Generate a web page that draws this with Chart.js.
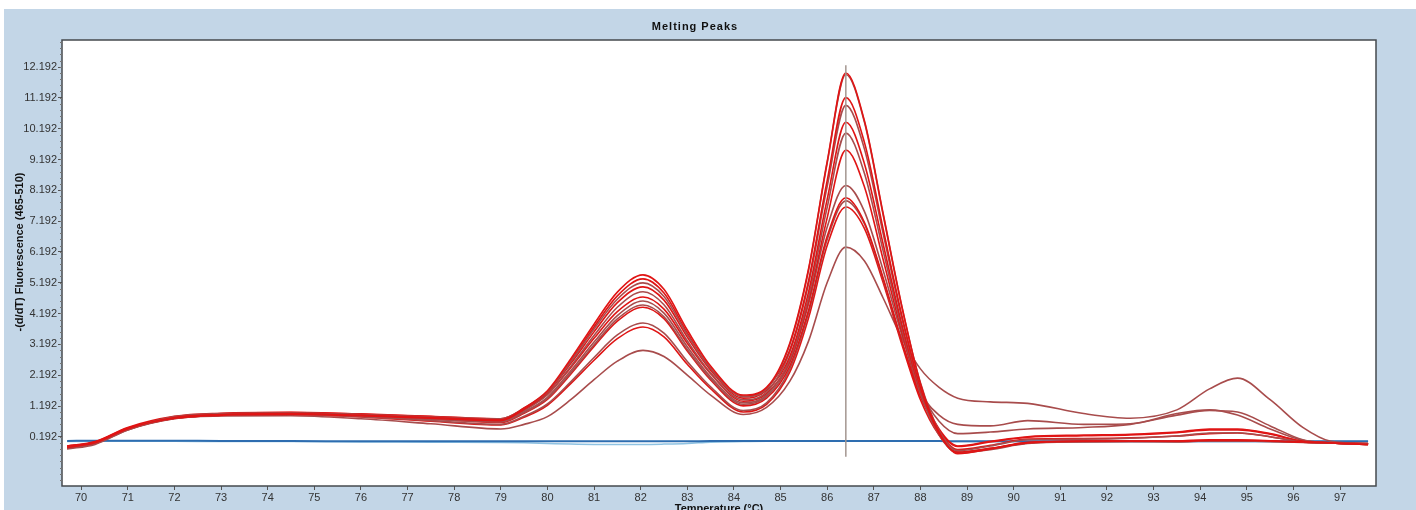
<!DOCTYPE html>
<html>
<head>
<meta charset="utf-8">
<title>Melting Peaks</title>
<script src="https://cdn.jsdelivr.net/npm/chart.js@4.4.0/dist/chart.umd.min.js"></script>
<style>
  html, body { margin: 0; padding: 0; background: #ffffff; }
  #wrap { width: 1416px; height: 510px; }
</style>
</head>
<body>
<div id="wrap"><canvas id="melt" width="1416" height="510"></canvas></div>
<script>
// temperatures (°C) the curves are sampled at
const temps = [69.7, 70.3, 71, 72, 73, 74.5, 76, 77.5, 79, 79.5, 80, 80.5, 81, 81.5, 82.05, 82.5, 83, 83.5, 84.2, 84.7,
  85.2, 85.6, 86, 86.4, 86.8, 87.2, 87.6, 88, 88.4, 88.8, 89.5, 90.3, 91.5, 92.5, 93.5, 94.2, 94.8, 95.5, 96.2, 96.8, 97.6];

// -(d/dT) fluorescence, one array per sample
const run1 = [-0.15, 0.0, 0.45, 0.82, 0.92, 0.95, 0.9, 0.82, 0.75, 1.13, 1.69, 2.72, 3.85, 4.89, 5.45, 4.98, 3.66, 2.49, 1.55, 1.8,
  3.24, 5.64, 9.12, 12.0, 10.44, 7.44, 4.44, 1.92, 0.35, -0.35, -0.2, 0.0, 0.05, 0.06, 0.05, 0.08, 0.08, 0.06, 0.03, 0.0, -0.05];
const run2 = [-0.2, -0.05, 0.42, 0.85, 0.95, 0.97, 0.92, 0.84, 0.78, 1.13, 1.66, 2.63, 3.69, 4.66, 5.19, 4.75, 3.51, 2.41, 1.5, 1.75,
  3.2, 5.6, 9.08, 11.95, 10.4, 7.4, 4.42, 1.95, 0.4, -0.25, -0.1, 0.1, 0.12, 0.15, 0.22, 0.32, 0.33, 0.2, 0.03, 0.0, -0.02];
const run3 = [-0.1, 0.02, 0.48, 0.8, 0.9, 0.93, 0.88, 0.8, 0.72, 1.09, 1.64, 2.65, 3.76, 4.77, 5.32, 4.86, 3.57, 2.42, 1.52, 1.77,
  3.02, 5.26, 8.51, 11.2, 9.74, 6.94, 4.14, 1.79, 0.3, -0.3, -0.18, 0.02, 0.06, 0.05, 0.06, 0.1, 0.1, 0.07, 0.02, 0.0, -0.05];
const run4 = [-0.15, 0.0, 0.44, 0.83, 0.93, 0.96, 0.91, 0.8, 0.72, 1.05, 1.56, 2.48, 3.48, 4.4, 4.9, 4.48, 3.31, 2.27, 1.4, 1.65,
  2.96, 5.15, 8.32, 10.95, 9.53, 6.79, 4.05, 1.75, 0.3, -0.32, -0.2, 0.0, 0.04, 0.05, 0.04, 0.07, 0.07, 0.05, 0.02, 0.0, -0.05];
const run5 = [-0.12, 0.03, 0.47, 0.84, 0.94, 0.98, 0.93, 0.85, 0.77, 1.11, 1.63, 2.57, 3.6, 4.55, 5.06, 4.63, 3.43, 2.36, 1.45, 1.7,
  2.81, 4.89, 7.9, 10.4, 9.05, 6.45, 3.85, 1.7, 0.45, -0.1, 0.05, 0.2, 0.25, 0.28, 0.35, 0.45, 0.45, 0.3, 0.05, 0.0, -0.03];
const run6 = [-0.18, -0.02, 0.43, 0.81, 0.91, 0.94, 0.89, 0.79, 0.7, 1.01, 1.48, 2.34, 3.27, 4.13, 4.6, 4.21, 3.12, 2.14, 1.3, 1.55,
  2.71, 4.72, 7.64, 10.05, 8.74, 6.23, 3.72, 1.6, 0.25, -0.33, -0.22, -0.02, 0.03, 0.04, 0.03, 0.06, 0.06, 0.04, 0.01, 0.0, -0.05];
const run7 = [-0.1, 0.04, 0.5, 0.86, 0.96, 0.99, 0.94, 0.86, 0.78, 1.1, 1.57, 2.44, 3.39, 4.26, 4.73, 4.34, 3.23, 2.24, 1.35, 1.6,
  2.66, 4.6, 7.3, 9.5, 8.3, 5.95, 3.6, 1.6, 0.35, -0.22, -0.08, 0.12, 0.14, 0.16, 0.22, 0.3, 0.32, 0.2, 0.03, 0.0, -0.02];
const run8 = [-0.14, 0.0, 0.45, 0.8, 0.9, 0.93, 0.87, 0.76, 0.68, 0.98, 1.44, 2.27, 3.18, 4.02, 4.47, 4.09, 3.03, 2.08, 1.25, 1.5,
  2.6, 4.5, 7.0, 8.35, 7.5, 5.6, 3.5, 1.7, 0.7, 0.3, 0.35, 0.45, 0.5, 0.6, 0.9, 1.05, 1.0, 0.55, 0.1, 0.0, -0.03];
const run9 = [-0.16, 0.01, 0.46, 0.82, 0.93, 0.96, 0.9, 0.78, 0.66, 0.96, 1.41, 2.23, 3.13, 3.95, 4.4, 4.03, 2.98, 2.04, 1.2, 1.45,
  2.5, 4.3, 6.7, 7.95, 7.15, 5.35, 3.3, 1.5, 0.4, -0.12, 0.03, 0.18, 0.23, 0.26, 0.33, 0.42, 0.42, 0.28, 0.05, 0.0, -0.04];
const run10 = [-0.12, 0.02, 0.46, 0.8, 0.9, 0.92, 0.85, 0.72, 0.6, 0.86, 1.26, 1.98, 2.77, 3.5, 3.89, 3.56, 2.64, 1.82, 1.05, 1.3,
  2.4, 4.2, 6.6, 7.85, 7.1, 5.3, 3.3, 1.65, 0.9, 0.6, 0.55, 0.72, 0.6, 0.62, 0.95, 1.07, 0.9, 0.45, 0.08, 0.0, -0.03];
const run11 = [-0.15, 0.0, 0.44, 0.79, 0.89, 0.92, 0.84, 0.7, 0.58, 0.83, 1.22, 1.92, 2.68, 3.38, 3.76, 3.44, 2.55, 1.76, 1.0, 1.25,
  2.3, 4.05, 6.4, 7.65, 6.95, 5.2, 3.2, 1.4, 0.25, -0.3, -0.18, 0.0, 0.05, 0.05, 0.05, 0.07, 0.07, 0.05, 0.02, 0.0, -0.05];
const run12 = [-0.18, -0.02, 0.42, 0.78, 0.87, 0.88, 0.78, 0.62, 0.45, 0.6, 0.85, 1.4, 2.05, 2.65, 3.0, 2.8, 2.2, 1.55, 0.92, 1.15,
  2.0, 3.3, 5.2, 6.35, 5.9, 4.7, 3.4, 2.4, 1.8, 1.45, 1.33, 1.28, 0.95, 0.8, 1.07, 1.75, 2.1, 1.4, 0.5, 0.05, -0.02];

// negative controls (blue)
const blank1 = [0.06, 0.07, 0.07, 0.07, 0.06, 0.06, 0.05, 0.05, 0.05, 0.05, 0.05, 0.05, 0.05, 0.05, 0.05, 0.05, 0.05, 0.06, 0.06, 0.06,
  0.06, 0.06, 0.06, 0.06, 0.06, 0.06, 0.06, 0.06, 0.06, 0.05, 0.05, 0.05, 0.05, 0.05, 0.05, 0.05, 0.05, 0.05, 0.05, 0.05, 0.05];
const blank2 = [0.04, 0.05, 0.05, 0.05, 0.04, 0.04, 0.03, 0.02, 0.01, 0.0, -0.02, -0.04, -0.05, -0.05, -0.05, -0.04, -0.02, 0.02, 0.04, 0.05,
  0.05, 0.05, 0.05, 0.05, 0.05, 0.05, 0.05, 0.05, 0.05, 0.04, 0.04, 0.04, 0.04, 0.04, 0.04, 0.04, 0.04, 0.04, 0.04, 0.04, 0.04];

const xTicks = [70, 71, 72, 73, 74, 75, 76, 77, 78, 79, 80, 81, 82, 83, 84, 85, 86, 87, 88, 89, 90, 91, 92, 93, 94, 95, 96, 97];
const yTicks = [0.192, 1.192, 2.192, 3.192, 4.192, 5.192, 6.192, 7.192, 8.192, 9.192, 10.192, 11.192, 12.192];

const cursorTemp = 86.4; // vertical marker
const cursorTop = 12.25;
const cursorBottom = -0.45;

const redRuns = [run1, run2, run3, run4, run5, run6, run7, run8, run9, run10, run11, run12];
const toPoints = (arr) => temps.map((t, i) => ({ x: t, y: arr[i] }));

const datasets = redRuns.map((r, i) => ({
  data: toPoints(r),
  borderColor: i % 2 ? '#a84c4c' : '#e01414',
  borderWidth: 1.6,
}));
datasets.push({ data: toPoints(blank1), borderColor: '#2e6db0', borderWidth: 2 });
datasets.push({ data: toPoints(blank2), borderColor: '#8ec2e2', borderWidth: 1.5 });

// frame, background and texts
const frame = {
  id: 'frame',
  beforeDraw(chart) {
    const { ctx, chartArea: a } = chart;
    ctx.save();
    ctx.fillStyle = '#ffffff';
    ctx.fillRect(0, 0, chart.width, chart.height);
    ctx.fillStyle = '#c3d6e7';
    ctx.fillRect(4, 9, chart.width - 4, chart.height - 9);
    ctx.fillStyle = '#ffffff';
    ctx.fillRect(a.left, a.top, a.right - a.left, a.bottom - a.top);
    ctx.restore();
  },
  afterDatasetsDraw(chart) {
    const { ctx, scales: { x, y } } = chart;
    const cx = x.getPixelForValue(cursorTemp);
    ctx.save();
    ctx.strokeStyle = '#a39690';
    ctx.lineWidth = 1.5;
    ctx.beginPath();
    ctx.moveTo(cx, y.getPixelForValue(cursorTop));
    ctx.lineTo(cx, y.getPixelForValue(cursorBottom));
    ctx.stroke();
    ctx.restore();
  },
  afterDraw(chart) {
    const { ctx, chartArea: a, scales: { x, y } } = chart;
    ctx.save();
    ctx.strokeStyle = '#454a4e';
    ctx.lineWidth = 1.5;
    ctx.strokeRect(a.left, a.top, a.right - a.left, a.bottom - a.top);

    // minor ticks on the y axis
    ctx.strokeStyle = '#777';
    ctx.lineWidth = 1;
    ctx.beginPath();
    for (let v = -1.2; v < 13; v += 0.2) {
      const py = Math.round(y.getPixelForValue(v)) + 0.5;
      if (py < a.top || py > a.bottom) continue;
      ctx.moveTo(a.left - 2, py);
      ctx.lineTo(a.left, py);
    }
    ctx.stroke();

    ctx.fillStyle = '#111';
    ctx.textAlign = 'center';
    ctx.textBaseline = 'middle';
    ctx.font = 'bold 11px "Liberation Sans", Arial, sans-serif';
    ctx.letterSpacing = '1px';
    ctx.fillText('Melting Peaks', 695, 27);
    ctx.letterSpacing = '0px';
    ctx.fillText('Temperature (°C)', (a.left + a.right) / 2, 509);

    ctx.translate(20, 252);
    ctx.rotate(-Math.PI / 2);
    ctx.fillText('-(d/dT) Fluorescence (465-510)', 0, 0);
    ctx.restore();
  }
};

new Chart(document.getElementById('melt'), {
  type: 'line',
  data: { datasets },
  plugins: [frame],
  options: {
    responsive: false,
    animation: false,
    devicePixelRatio: 1,
    layout: { padding: { left: 0, top: 40, right: 40, bottom: 0 } },
    elements: {
      point: { radius: 0 },
      line: { cubicInterpolationMode: 'monotone', fill: false }
    },
    plugins: { legend: { display: false }, tooltip: { enabled: false }, title: { display: false } },
    scales: {
      x: {
        type: 'linear',
        min: 69.59,
        max: 97.77,
        afterBuildTicks: (s) => { s.ticks = xTicks.map(v => ({ value: v })); },
        afterFit: (s) => { s.height = 24; },
        grid: { drawOnChartArea: false, drawTicks: true, tickLength: 4, color: '#555' },
        border: { display: false },
        ticks: {
          color: '#333',
          padding: 1,
          maxRotation: 0,
          autoSkip: false,
          font: { family: '"Liberation Sans", Arial, sans-serif', size: 11 },
          callback: (v) => String(v)
        }
      },
      y: {
        type: 'linear',
        min: -1.40,
        max: 13.07,
        afterBuildTicks: (s) => { s.ticks = yTicks.map(v => ({ value: v })); },
        afterFit: (s) => { s.width = 62; },
        grid: { drawOnChartArea: false, drawTicks: true, tickLength: 4, color: '#555' },
        border: { display: false },
        ticks: {
          color: '#333',
          padding: 1,
          autoSkip: false,
          font: { family: '"Liberation Sans", Arial, sans-serif', size: 11 },
          callback: (v) => v.toFixed(3)
        }
      }
    }
  }
});
</script>
</body>
</html>
